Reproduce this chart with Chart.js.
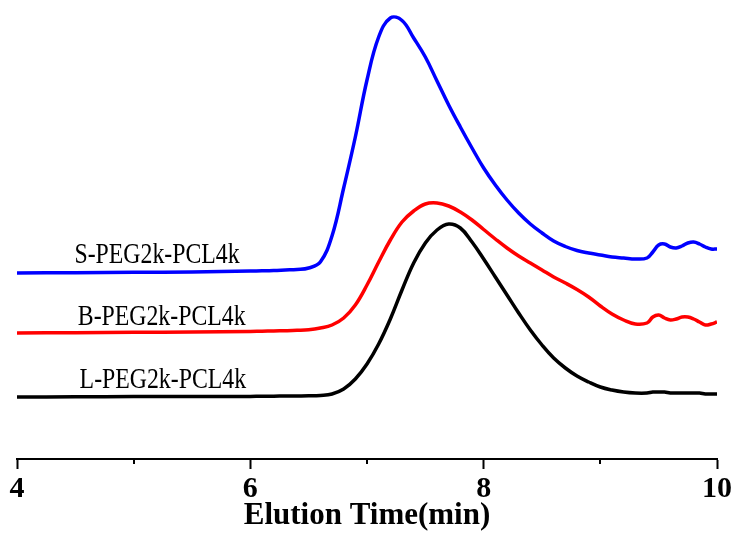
<!DOCTYPE html>
<html>
<head>
<meta charset="utf-8">
<script src="https://cdn.jsdelivr.net/npm/chart.js@4.4.1/dist/chart.umd.min.js"></script>
<style>
  html, body { margin: 0; padding: 0; background: #fff; }
  #wrap { width: 737px; height: 534px; }
</style>
</head>
<body>
<div id="wrap"><canvas id="gpc"></canvas></div>
<script>
// elution time (min)
const tempos = [4, 4.5, 5, 5.5,
  6.0, 6.1, 6.2, 6.3, 6.4, 6.5, 6.6, 6.7, 6.8, 6.9,
  7.0, 7.1, 7.2, 7.3, 7.4, 7.5, 7.6, 7.7, 7.8, 7.9,
  8.0, 8.1, 8.2, 8.3, 8.4, 8.5, 8.6, 8.7, 8.8, 8.9,
  9.0, 9.1, 9.2, 9.3, 9.4,
  9.45, 9.5, 9.55, 9.6, 9.65, 9.7, 9.75, 9.8, 9.85, 9.9, 9.95, 10];

// detector signal (a.u., curves stacked with offsets)
const sinalS = [186, 186.3, 186.7, 187,
  188, 188.2, 188.5, 189, 189.5, 191, 197, 223, 271, 322,
  379, 422, 441, 438.5, 421, 402, 378, 354, 332, 311,
  291, 274, 259, 246, 235, 226, 218, 212.5, 208.5, 206,
  204, 202, 201, 200, 201,
  207, 214, 215, 212, 211, 213, 216, 217, 215, 212, 210, 210];

const sinalB = [126, 126.3, 126.7, 127,
  127.5, 127.8, 128, 128.3, 128.7, 129.3, 131, 134, 141, 154,
  174, 197, 219, 237, 248, 255, 256, 253, 247, 239,
  229.5, 220, 211, 203, 196, 189, 182, 176, 169.5, 162,
  153, 145, 139, 135, 136,
  142, 144, 141, 139, 140, 142, 142, 140, 137, 134, 135, 137];

const sinalL = [62, 62.2, 62.4, 62.5,
  62.6, 62.7, 62.8, 63, 63.1, 63.2, 63.6, 65, 70, 80,
  95, 115, 140, 169, 196, 216, 229, 235, 231, 217,
  200, 182, 164, 146, 129, 114, 101, 91, 83, 77,
  72, 69, 67, 66, 66,
  67, 67, 67, 66, 66, 66, 66, 66, 66, 65, 65, 65];

const nomes  = ["S-PEG2k-PCL4k", "B-PEG2k-PCL4k", "L-PEG2k-PCL4k"];
const cores  = ["#0000ff", "#ff0000", "#000000"];
// label anchor: [time, signal] of text baseline centre
const rotulos = [[5.20, 196], [5.24, 134], [5.25, 71]];

const ticksMenores = [5, 7, 9];

const series = [sinalS, sinalB, sinalL];

const pontos = vals => tempos.map((t, i) => ({ x: t, y: vals[i] }));

// curve names, drawn next to the baselines
const rotulosPlugin = {
  id: "rotulos",
  afterDatasetsDraw(chart) {
    const { ctx, scales: { x, y } } = chart;
    ctx.save();
    ctx.fillStyle = "#000";
    ctx.font = "29px 'Liberation Serif'";
    ctx.textAlign = "center";
    ctx.textBaseline = "alphabetic";
    rotulos.forEach(([t, v], i) => {
      ctx.save();
      ctx.translate(x.getPixelForValue(t), y.getPixelForValue(v));
      ctx.scale(0.82, 1);
      ctx.fillText(nomes[i], 0, 0);
      ctx.restore();
    });
    ctx.restore();
  }
};

// shorter minor ticks at odd minutes
const menoresPlugin = {
  id: "menores",
  afterDraw(chart) {
    const { ctx, scales: { x } } = chart;
    const base = chart.chartArea.bottom;
    ctx.save();
    ctx.strokeStyle = "#000";
    ctx.lineWidth = 2;
    ticksMenores.forEach(t => {
      const px = Math.round(x.getPixelForValue(t));
      ctx.beginPath();
      ctx.moveTo(px, base);
      ctx.lineTo(px, base + 5);
      ctx.stroke();
    });
    ctx.restore();
  }
};

new Chart(document.getElementById("gpc"), {
  type: "line",
  data: {
    datasets: series.map((s, i) => ({
      label: nomes[i],
      data: pontos(s),
      borderColor: cores[i],
      borderWidth: 3.5,
      pointRadius: 0,
      tension: 0.4,
      fill: false,
    }))
  },
  options: {
    responsive: true,
    maintainAspectRatio: false,
    animation: false,
    layout: { padding: { left: 17, right: 19, top: 5, bottom: 0 } },
    plugins: { legend: { display: false }, tooltip: { enabled: false } },
    scales: {
      x: {
        type: "linear",
        min: 4,
        max: 10,
        afterFit: s => { s.height = 75; },
        ticks: {
          stepSize: 2,
          color: "#000",
          padding: 5,
          maxRotation: 0,
          font: { family: "'Liberation Serif'", size: 30, weight: "bold", lineHeight: 1 },
        },
        grid: { drawOnChartArea: false, tickLength: 10, tickWidth: 2, tickColor: "#000" },
        border: { color: "#000", width: 2 },
        title: {
          display: true,
          text: "Elution Time(min)",
          color: "#000",
          padding: { top: 0, bottom: 3 },
          font: { family: "'Liberation Serif'", size: 31, weight: "bold", lineHeight: 1 },
        },
      },
      y: { display: false, min: 0, max: 454 },
    }
  },
  plugins: [rotulosPlugin, menoresPlugin]
});
</script>
</body>
</html>
